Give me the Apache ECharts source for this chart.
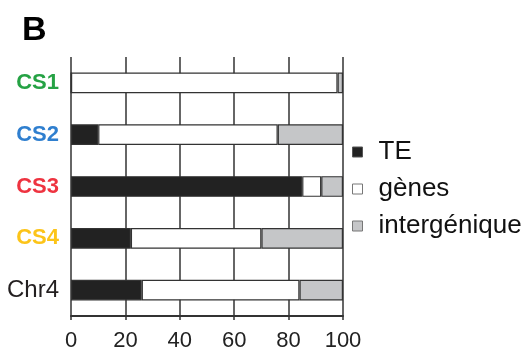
<!DOCTYPE html>
<html>
<head>
<meta charset="utf-8">
<script src="https://cdn.jsdelivr.net/npm/echarts@6/dist/echarts.min.js"></script>
<style>
    html, body { margin: 0; padding: 0; background: #fff; }
    #chart { width: 524px; height: 353px; }
</style>
</head>
<body>
<div id="chart"></div>
<script>
// categories, top to bottom
var categories = ["CS1", "CS2", "CS3", "CS4", "Chr4"];
var labelKeys = ["cs1", "cs2", "cs3", "cs4", "chr4"];
// percentages per category
var teValues = [0, 10, 85, 22, 26];
var geneValues = [98, 66, 7, 48, 58];
var interValues = [2, 24, 8, 30, 16];
var seriesNames = ["TE", "gènes", "intergénique"];

var myChart = echarts.init(document.getElementById("chart"));
var font = "Liberation Sans, Arial, sans-serif";

function makeBar(name, values, fill) {
    return {
        name: name,
        type: "bar",
        stack: "total",
        barWidth: "40%",
        animation: false,
        itemStyle: {
            color: fill,
            borderColor: "#333",
            borderWidth: 1.2
        },
        data: values
    };
}

var option = {
    title: {
        text: "B",
        left: 17,
        top: 9,
        textStyle: { fontFamily: font, fontSize: 34, fontWeight: "bold", color: "#000" }
    },
    legend: {
        orient: "vertical",
        left: 347,
        top: 134,
        itemWidth: 10,
        itemHeight: 10,
        itemGap: 11,
        icon: "rect",
        textStyle: { fontFamily: font, fontSize: 26, color: "#111", padding: [0, 0, 0, 11] },
        data: [
            { name: "TE", itemStyle: { color: "#222", borderColor: "#555", borderWidth: 1 } },
            { name: "gènes", itemStyle: { color: "#fff", borderColor: "#777", borderWidth: 1 } },
            { name: "intergénique", itemStyle: { color: "#c5c6c8", borderColor: "#777", borderWidth: 1 } }
        ]
    },
    grid: { left: 71, right: 181, top: 57, bottom: 37 },
    xAxis: {
        type: "value",
        min: 0,
        max: 100,
        interval: 20,
        axisLine: { show: true, lineStyle: { color: "#333", width: 2 } },
        axisTick: { show: true, length: 4, lineStyle: { color: "#333", width: 1.5 } },
        axisLabel: { fontFamily: font, fontSize: 22, color: "#222", margin: 14 },
        splitLine: { show: true, lineStyle: { color: "#333", width: 1.5 } }
    },
    yAxis: {
        type: "category",
        inverse: true,
        data: categories,
        axisLine: { show: false },
        axisTick: { show: false },
        axisLabel: {
            margin: 12,
            formatter: function (v, i) {
                return "{" + labelKeys[i] + "|" + v + "}";
            },
            rich: {
                cs1: { color: "#25a244", fontFamily: font, fontSize: 22, fontWeight: "bold" },
                cs2: { color: "#2f7fcf", fontFamily: font, fontSize: 22, fontWeight: "bold" },
                cs3: { color: "#ee3340", fontFamily: font, fontSize: 22, fontWeight: "bold" },
                cs4: { color: "#fcc419", fontFamily: font, fontSize: 22, fontWeight: "bold" },
                chr4: { color: "#231f20", fontFamily: font, fontSize: 24 }
            }
        }
    },
    series: [
        makeBar(seriesNames[0], teValues, "#222"),
        makeBar(seriesNames[1], geneValues, "#fff"),
        makeBar(seriesNames[2], interValues, "#c5c6c8")
    ]
};
myChart.setOption(option, true);
</script>
</body>
</html>
